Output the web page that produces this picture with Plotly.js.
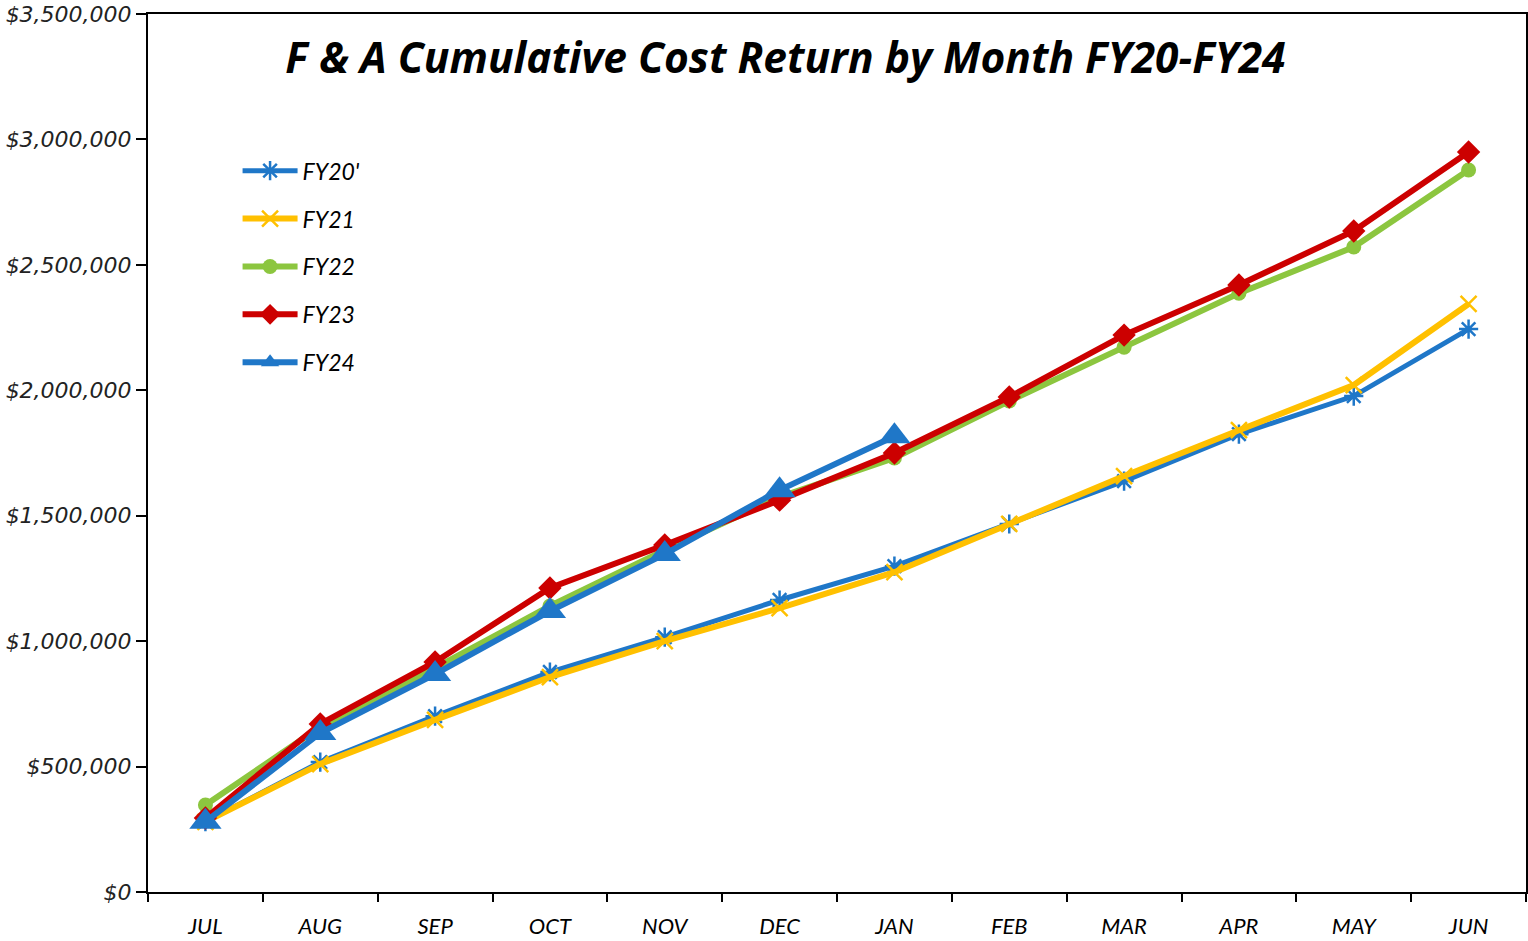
<!DOCTYPE html>
<html><head><meta charset="utf-8">
<script src="https://cdn.plot.ly/plotly-3.0.1.min.js"></script>
<style>html,body{margin:0;padding:0;background:#fff}#chart{width:1528px;height:941px}</style>
</head><body><div id="chart"></div>
<script>
const months = ['JUL','AUG','SEP','OCT','NOV','DEC','JAN','FEB','MAR','APR','MAY','JUN'];
const fy20 = [280000, 518000, 701000, 877000, 1016000, 1164000, 1299000, 1467000, 1638000, 1825000, 1977000, 2244000];
const fy21 = [280000, 510000, 686000, 857000, 1000000, 1132000, 1275000, 1467000, 1658000, 1841000, 2021000, 2344000];
const fy22 = [347000, 658000, 893000, 1140000, 1363000, 1574000, 1730000, 1957000, 2172000, 2387000, 2571000, 2878000];
const fy23 = [295000, 670000, 917000, 1212000, 1383000, 1562000, 1750000, 1973000, 2220000, 2420000, 2635000, 2950000];
const fy24 = [280000, 634000, 869000, 1120000, 1347000, 1602000, 1817000];

const traces = [
  {name:"FY20'", y:fy20, x:months, color:'#1f77c8', symbol:'asterisk-open', size:16, lw:2.5, width:5},
  {name:'FY21', y:fy21, x:months, color:'#ffc000', symbol:'x-thin-open', size:16, lw:2.5, width:6},
  {name:'FY22', y:fy22, x:months, color:'#8cc63f', symbol:'circle', size:15, lw:0, width:6},
  {name:'FY23', y:fy23, x:months, color:'#cc0000', symbol:'diamond', size:18, lw:0, width:6},
  {name:'FY24', y:fy24, x:months.slice(0, fy24.length), color:'#1f77c8', symbol:'triangle-up', size:28, lw:0, width:6}
].map((t,i)=>({
  type:'scatter', mode:'lines+markers', name:t.name, x:t.x, y:t.y,
  legendgroup:'g'+i,
  line:{color:t.color, width:t.width},
  marker:{symbol:t.symbol, size:t.size, color:t.color, line:{color:t.color, width:t.lw}}
}));

const layout = {
  width:1528, height:941,
  margin:{l:148, r:2, t:14, b:49},
  paper_bgcolor:'#fff', plot_bgcolor:'#fff',
  font:{family:'Lato, "Open Sans", sans-serif', color:'#000'},
  title:{text:'<b><i>F & A Cumulative Cost Return by Month FY20-FY24</i></b>',
    x:0.514, xanchor:'center', y:0.938, yanchor:'middle',
    font:{family:'"Open Sans", Lato, sans-serif', size:42.5, color:'#000'}},
  showlegend:true,
  legend:{x:0.065, y:0.846, xanchor:'left', yanchor:'top', bgcolor:'rgba(0,0,0,0)',
    traceorder:'grouped', tracegroupgap:15, itemwidth:55,
    font:{family:'Lato, sans-serif', size:23, style:'italic', color:'#000'}},
  xaxis:{type:'category', range:[-0.5, 11.5], showline:true, linecolor:'#000', linewidth:2,
    mirror:true, ticks:'outside', tickson:'boundaries', ticklen:8, tickcolor:'#000', tickwidth:1.5,
    showgrid:false, zeroline:false, ticklabelstandoff:14,
    tickfont:{family:'Lato, sans-serif', size:22, style:'italic', color:'#000'}},
  yaxis:{range:[0, 3500000], dtick:500000, tickformat:'$,.0f', showline:true, linecolor:'#000', linewidth:2,
    mirror:true, ticks:'outside', ticklen:10, tickcolor:'#000', tickwidth:1.5,
    showgrid:false, zeroline:false,
    tickfont:{family:'"DejaVu Sans", sans-serif', size:22, style:'italic', color:'#222'}}
};

Plotly.newPlot('chart', traces, layout, {displayModeBar:false});
</script></body></html>
